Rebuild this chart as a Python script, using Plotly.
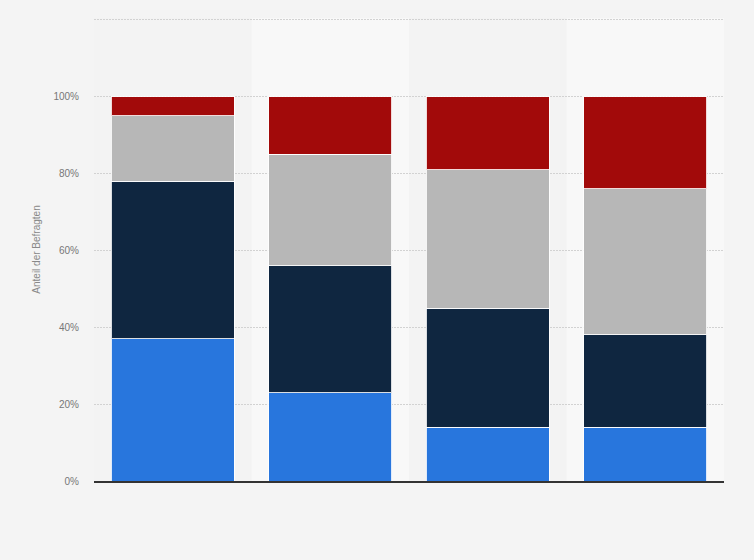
import plotly.graph_objects as go

categories = ["A", "B", "C", "D"]
series_names = ["Serie 1", "Serie 2", "Serie 3", "Serie 4"]
blue_vals = [37, 23, 14, 14]
navy_vals = [41, 33, 31, 24]
gray_vals = [17, 29, 36, 38]
red_vals = [5, 15, 19, 24]
colors = ["#2876dd", "#0f2640", "#b7b7b7", "#a20a0a"]
y_ticks = [0, 20, 40, 60, 80, 100, 120]
y_ticktext = ["0%", "20%", "40%", "60%", "80%", "100%", ""]

fig = go.Figure()
for name, vals, col in zip(series_names, [blue_vals, navy_vals, gray_vals, red_vals], colors):
    fig.add_trace(go.Bar(
        x=categories, y=vals, name=name,
        marker=dict(color=col, line=dict(color="rgba(255,255,255,0.85)", width=1)),
        hoverinfo="skip",
    ))

# alternating column bands
for i in [1, 3]:
    fig.add_shape(type="rect", xref="x", yref="paper",
                  x0=i - 0.5, x1=i + 0.5, y0=0, y1=1,
                  fillcolor="#f8f8f8", line=dict(width=0), layer="below")

fig.update_layout(
    barmode="stack",
    bargap=0.22,
    width=754, height=560,
    margin=dict(l=94, r=30, t=18, b=79),
    paper_bgcolor="#f4f4f4",
    plot_bgcolor="#f3f3f3",
    showlegend=False,
    font=dict(family="Liberation Sans, Arial, sans-serif", color="#777"),
)
fig.update_xaxes(
    showticklabels=False, showgrid=False, ticks="",
    showline=True, linecolor="#333", linewidth=1.5,
    range=[-0.5, 3.5],
)
fig.update_yaxes(
    range=[0, 120.5], tickvals=y_ticks, ticktext=y_ticktext,
    showgrid=True, gridcolor="#d2d2d2", griddash="2px,1px", gridwidth=1,
    zeroline=False, showline=False, ticks="",
    tickfont=dict(size=10, color="#777"),
    ticklabelstandoff=14,
    title=dict(text="Anteil der Befragten", font=dict(size=10, color="#888"), standoff=10),
)

fig.write_html("out.html", config={"displayModeBar": False},
               post_script="document.body.style.margin='0';")
